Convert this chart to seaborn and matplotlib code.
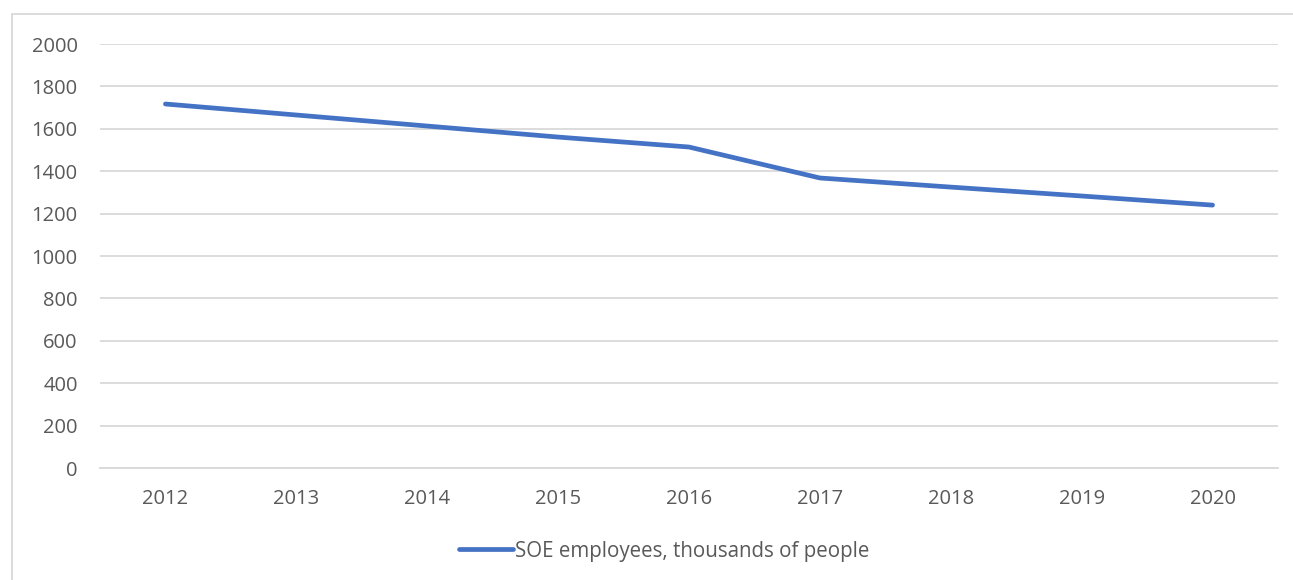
import matplotlib
matplotlib.use("Agg")
import matplotlib.pyplot as plt
import seaborn as sns
import pandas as pd

# Data
years = ["2012", "2013", "2014", "2015", "2016", "2017", "2018", "2019", "2020"]
employees = [1717, 1665, 1613, 1561, 1514, 1368, 1325, 1283, 1240]
series_name = "SOE employees, thousands of people"

df = pd.DataFrame({"year": years, "value": employees})

sns.set_theme(style="white")
plt.rcParams["font.family"] = ["Open Sans", "DejaVu Sans"]

W, H = 1293, 580
fig = plt.figure(figsize=(W / 100, H / 100), dpi=100)
ax = fig.add_axes([100 / W, 1 - 468 / H, (1278 - 100) / W, (468 - 44) / H])

sns.lineplot(data=df, x="year", y="value", ax=ax, color="#4472C4",
             linewidth=3.4, label=series_name, solid_capstyle="round", sort=False)

ax.set_ylim(0, 2000)
ax.set_xlim(-0.5, len(years) - 0.5)
ax.set_yticks(range(0, 2001, 200))
ax.grid(axis="y", color="#d9d9d9", linewidth=1.3)
ax.set_axisbelow(True)
for s in ["top", "right", "left"]:
    ax.spines[s].set_visible(False)
ax.spines["bottom"].set_color("#d9d9d9")
ax.spines["bottom"].set_linewidth(1.3)
ax.tick_params(axis="both", length=0, labelsize=14.5, colors="#595959")
ax.tick_params(axis="x", pad=15)
ax.tick_params(axis="y", pad=16)
ax.set_xlabel("")
ax.set_ylabel("")

leg = ax.legend(loc="center", bbox_to_anchor=((664 - 100) / (1278 - 100), -(551 - 468) / (468 - 44)),
                frameon=False, fontsize=14.8, handlelength=2.6, handletextpad=0.1)
for t in leg.get_texts():
    t.set_color("#595959")

# chart border (Excel chart area)
border = plt.Rectangle((12 / W, -0.1), 1.2, 1 - 14 / H + 0.1, transform=fig.transFigure,
                       fill=False, edgecolor="#d9d9d9", linewidth=1.3)
fig.add_artist(border)

fig.savefig("out.png", dpi=100)
